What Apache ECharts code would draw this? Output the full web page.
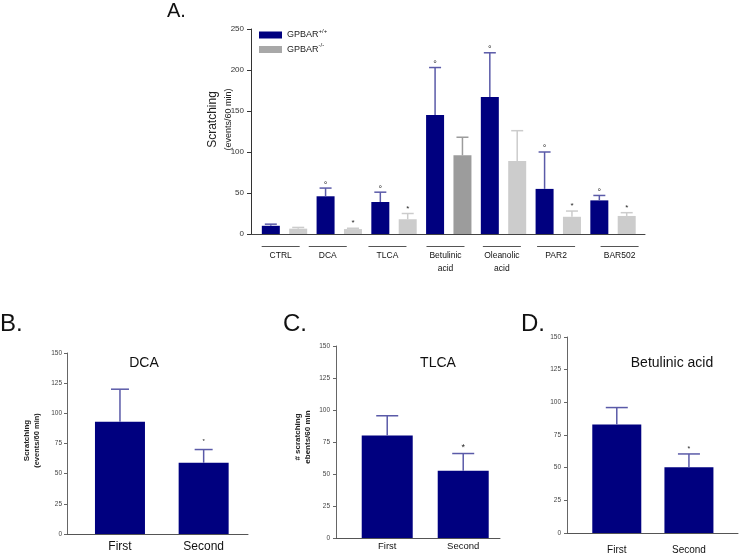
<!DOCTYPE html>
<html><head><meta charset="utf-8">
<script src="https://cdn.jsdelivr.net/npm/echarts@6/dist/echarts.min.js"></script>
<style>html,body{margin:0;padding:0;background:#fff}#c{width:739px;height:559px}</style>
</head><body><div id="c"></div>
<script>
// ---------- Data (panel A) ----------
const categories = ['CTRL', 'DCA', 'TLCA', 'Betulinic\nacid', 'Oleanolic\nacid', 'PAR2', 'BAR502'];
const wtMean   = [10, 46, 39, 145, 167, 55, 41];      // GPBAR+/+
const wtErrTop = [12, 56, 51, 203, 221, 100, 47];
const wtMarks  = ['', '°', '°', '°', '°', '°', '°'];
const koMean   = [6.5, 6, 18, 96, 89, 21, 22];         // GPBAR-/-
const koErrTop = [8, 7, 25, 118, 126, 28, 26];
const koMarks  = ['', '*', '*', '', '', '*', '*'];
const yTicksA  = [0, 50, 100, 150, 200, 250];
// ---------- Data (panels B-D) ----------
const pairLabels = ['First', 'Second'];
const dcaMean = [93, 59],   dcaErrTop = [120, 70],  dcaMarks = ['', '*'];
const tlcaMean = [80, 52.5], tlcaErrTop = [95.5, 66], tlcaMarks = ['', '*'];
const betMean = [83, 50.3], betErrTop = [96, 60.5], betMarks = ['', '*'];
const yTicksSmall = [0, 25, 50, 75, 100, 125, 150];

// ---------- Style ----------
const FONT = 'Liberation Sans, Arial, sans-serif';
const NAVY = '#00007f';
const NAVY_ERR = '#5a5aa8';
const GREY_LIGHT = '#cccccc';
const GREY_DARK = '#9c9c9c';
const koShade = {3: GREY_DARK};             // Betulinic acid KO bar is darker
const labelShiftA = [-0.07, -0.21, -0.12, -0.06, -0.03, -0.04, 0.12];
const pairOffset = 0.25;

function catLabel(v) {
  const c = categories[Math.round(v)];
  if (c === undefined) return '';
  return '{ln|\u00a0}\n' + c.split('\n').map(s => '{t|' + s + '}').join('\n');
}
function pairLabel(v) {
  const c = pairLabels[Math.round(v)];
  return c === undefined ? '' : c;
}

function errSeries(name, gridIdx, rows, marks, color, capHalf, markFont, markGap) {
  return {
    type: 'custom', name: name, xAxisIndex: gridIdx, yAxisIndex: gridIdx, z: 3,
    coordinateSystem: 'cartesian2d', silent: true,
    encode: {x: 0, y: [1, 2]},
    data: rows,
    renderItem: function (params, api) {
      const x = api.value(0), top = api.value(1), hi = api.value(2);
      const p0 = api.coord([x, top]), p1 = api.coord([x, hi]);
      const children = [
        {type: 'line', shape: {x1: p0[0], y1: p0[1], x2: p1[0], y2: p1[1]}, style: {stroke: color, lineWidth: 1.5}},
        {type: 'line', shape: {x1: p1[0] - capHalf, y1: p1[1], x2: p1[0] + capHalf, y2: p1[1]}, style: {stroke: color, lineWidth: 1.5}}
      ];
      const m = marks[params.dataIndex];
      if (m) {
        children.push({type: 'text', x: p1[0], y: p1[1] - markGap,
          style: {text: m, fill: '#222', font: markFont + 'px ' + FONT, align: 'center', verticalAlign: 'middle'}});
      }
      return {type: 'group', children: children};
    }
  };
}

function yAxisSmall(gridIdx, margin, name, nameGap, namePad) {
  const ax = {
    type: 'value', gridIndex: gridIdx, min: 0, max: 150, interval: 25,
    axisLine: {show: true, onZero: false, lineStyle: {color: '#666', width: 1}},
    axisTick: {show: true, length: 3, lineStyle: {color: '#666'}},
    axisLabel: {fontSize: 6.5, color: '#444', margin: margin, fontFamily: FONT},
    splitLine: {show: false}
  };
  if (name) {
    ax.name = name;
    ax.nameLocation = 'middle';
    ax.nameGap = nameGap;
    ax.nameRotate = 90;
    ax.nameMoveOverlap = false;
    ax.nameTextStyle = {fontFamily: FONT, color: '#222', padding: namePad,
      rich: {a: {fontSize: 8, fontWeight: 'bold', lineHeight: 10, color: '#222', fontFamily: FONT},
             b: {fontSize: 7.5, fontWeight: 'bold', lineHeight: 10, color: '#222', fontFamily: FONT}}};
  }
  return ax;
}

function xAxisSmall(gridIdx, min, max, fontSize, margin) {
  return {
    type: 'value', gridIndex: gridIdx, min: min, max: max,
    axisLine: {show: true, onZero: false, lineStyle: {color: '#555', width: 1}},
    axisTick: {show: false}, splitLine: {show: false},
    axisLabel: {customValues: [0, 1], formatter: v => pairLabel(v), fontSize: fontSize, color: '#111', margin: margin, fontFamily: FONT}
  };
}

function panelTitle(text, left, top, size, align) {
  return {text: text, left: left, top: top, padding: 0, textAlign: align || 'left',
          textStyle: {fontSize: size, fontWeight: 'normal', color: '#111', fontFamily: FONT}};
}

const chart = echarts.init(document.getElementById('c'), null, {renderer: 'canvas'});
const option = {
  animation: false,
  backgroundColor: '#ffffff',
  textStyle: {fontFamily: FONT},
  title: [
    panelTitle('A.', 167, 1, 20),
    panelTitle('B.', 0, 312, 24),
    panelTitle('C.', 283, 312, 24),
    panelTitle('D.', 521, 312, 24),
    panelTitle('DCA', 144, 356, 14, 'center'),
    panelTitle('TLCA', 438, 356, 14, 'center'),
    panelTitle('Betulinic acid', 672, 356, 14, 'center')
  ],
  legend: {
    left: 259, top: 28, orient: 'vertical', itemWidth: 23, itemHeight: 7, itemGap: 3,
    icon: 'rect', selectedMode: false, padding: 0,
    data: ['GPBAR+/+', 'GPBAR-/-'],
    formatter: n => '{a|GPBAR}{s|' + n.slice(5) + '}',
    textStyle: {
      fontFamily: FONT, color: '#222',
      rich: {
        a: {fontSize: 9, lineHeight: 14, color: '#222', fontFamily: FONT},
        s: {fontSize: 6, lineHeight: 6, verticalAlign: 'top', color: '#222', fontFamily: FONT}
      }
    }
  },
  grid: [
    {left: 251, top: 29, width: 394, height: 205},
    {left: 67, top: 353, width: 181, height: 181},
    {left: 336, top: 346, width: 164, height: 192},
    {left: 567, top: 337, width: 171, height: 196}
  ],
  xAxis: [
    {
      type: 'value', gridIndex: 0, min: -0.612, max: 6.584,
      axisLine: {show: true, onZero: false, lineStyle: {color: '#444', width: 1}},
      axisTick: {show: false}, splitLine: {show: false},
      axisLabel: {
        customValues: categories.map((c, i) => i + labelShiftA[i]),
        formatter: v => catLabel(v),
        margin: 10, fontFamily: FONT,
        rich: {
          ln: {width: 38, height: 1, lineHeight: 5, fontSize: 1, backgroundColor: '#555'},
          t: {fontSize: 8.5, lineHeight: 13, color: '#111', fontFamily: FONT}
        }
      }
    },
    xAxisSmall(1, -0.633, 1.53, 12, 7),
    xAxisSmall(2, -0.674, 1.484, 9.5, 3),
    xAxisSmall(3, -0.69, 1.68, 10, 12)
  ],
  yAxis: [
    {
      type: 'value', gridIndex: 0, min: 0, max: 250, interval: 50,
      axisLine: {show: true, onZero: false, lineStyle: {color: '#333', width: 1}},
      axisTick: {show: true, length: 4, lineStyle: {color: '#333'}},
      axisLabel: {fontSize: 8, color: '#333', margin: 7, fontFamily: FONT},
      splitLine: {show: false},
      name: '{a|Scratching}\n{b|(events/60 min)}',
      nameLocation: 'middle', nameRotate: 90, nameGap: 15, nameMoveOverlap: false,
      nameTextStyle: {fontFamily: FONT, padding: [0, 0, 0, 24],
        rich: {a: {fontSize: 12, lineHeight: 17, color: '#222', fontFamily: FONT},
               b: {fontSize: 9, lineHeight: 15, color: '#222', fontFamily: FONT}}}
    },
    yAxisSmall(1, 5, '{a|Scratching}\n{b|(events/60 min)}', 25, [0, 0, 0, 6]),
    yAxisSmall(2, 6, '{a|# scratching}\n{a|ebents/60 min}', 23, [0, 0, 0, 10]),
    yAxisSmall(3, 6, null)
  ],
  series: [
    {
      type: 'bar', name: 'GPBAR+/+', xAxisIndex: 0, yAxisIndex: 0, barWidth: 18, barGap: '-100%',
      itemStyle: {color: NAVY},
      data: wtMean.map((v, i) => [i - pairOffset, v])
    },
    {
      type: 'bar', name: 'GPBAR-/-', xAxisIndex: 0, yAxisIndex: 0, barWidth: 18, barGap: '-100%',
      itemStyle: {color: '#a8a8a8'},
      data: koMean.map((v, i) => ({value: [i + pairOffset, v], itemStyle: {color: koShade[i] || GREY_LIGHT}}))
    },
    errSeries('errWT', 0, wtMean.map((v, i) => [i - pairOffset, v, wtErrTop[i]]), wtMarks, NAVY_ERR, 6, 9, 3),
    errSeries('errKO1', 0, koMean.map((v, i) => [i + pairOffset, v, koErrTop[i]]).filter((r, i) => !koShade[i]), koMarks.filter((m, i) => !koShade[i]), GREY_LIGHT, 6, 8, 5),
    errSeries('errKO2', 0, koMean.map((v, i) => [i + pairOffset, v, koErrTop[i]]).filter((r, i) => koShade[i]), koMarks.filter((m, i) => koShade[i]), GREY_DARK, 6, 8, 5),

    {type: 'bar', name: 'DCA', xAxisIndex: 1, yAxisIndex: 1, barWidth: 50, itemStyle: {color: NAVY},
     data: dcaMean.map((v, i) => [i, v])},
    errSeries('errDCA', 1, dcaMean.map((v, i) => [i, v, dcaErrTop[i]]), dcaMarks, NAVY_ERR, 9, 6, 8),

    {type: 'bar', name: 'TLCA', xAxisIndex: 2, yAxisIndex: 2, barWidth: 51, itemStyle: {color: NAVY},
     data: tlcaMean.map((v, i) => [i, v])},
    errSeries('errTLCA', 2, tlcaMean.map((v, i) => [i, v, tlcaErrTop[i]]), tlcaMarks, NAVY_ERR, 11, 9, 6),

    {type: 'bar', name: 'Betulinic acid', xAxisIndex: 3, yAxisIndex: 3, barWidth: 49, itemStyle: {color: NAVY},
     data: betMean.map((v, i) => [i, v])},
    errSeries('errBet', 3, betMean.map((v, i) => [i, v, betErrTop[i]]), betMarks, NAVY_ERR, 11, 7, 5)
  ]
};
chart.setOption(option);
</script>
</body></html>
